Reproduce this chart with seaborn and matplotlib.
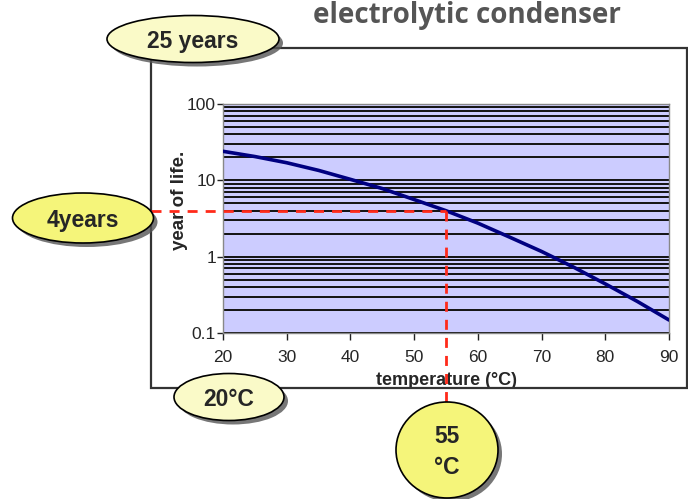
import matplotlib
matplotlib.use("Agg")
import matplotlib.pyplot as plt
from matplotlib.patches import Ellipse, Rectangle
from matplotlib.ticker import FixedLocator, NullFormatter
import seaborn as sns

# 온도별 수명 데이터
temperature = [20, 25, 30, 35, 40, 45, 50, 55, 60, 65, 70, 75, 80, 85, 90]
life_years = [24, 20.5, 17, 13.5, 10.3, 7.8, 5.6, 4.0, 2.75, 1.8, 1.17, 0.73, 0.44, 0.26, 0.148]

x_ticks = [20, 30, 40, 50, 60, 70, 80, 90]
y_ticks = [0.1, 1, 10, 100]
y_tick_labels = ['0.1', '1', '10', '100']
y_minor = [m * d for d in (0.1, 1, 10) for m in range(2, 10)]

# 표시할 기준점
mark_temp = 55
mark_life = 4
bubble_texts = ['25 years', '4years', '20°C', '55\n°C']

sns.set_style("white")
plt.rcParams['font.family'] = ['Liberation Sans', 'DejaVu Sans']

W, H = 688, 499
fig = plt.figure(figsize=(W / 100, H / 100), dpi=100)

# 메인 그래프
ax = fig.add_axes([223 / W, 1 - 333 / H, 446 / W, 229 / H])
ax.set_facecolor('#CCCCFF')
sns.lineplot(x=temperature, y=life_years, ax=ax, color='#000080', lw=2.6, zorder=3)
ax.set_yscale('log')
ax.set_xlim(20, 90)
ax.set_ylim(0.1, 100)
ax.xaxis.set_major_locator(FixedLocator(x_ticks))
ax.yaxis.set_major_locator(FixedLocator(y_ticks))
ax.set_yticklabels(y_tick_labels)
ax.yaxis.set_minor_locator(FixedLocator(y_minor))
ax.yaxis.set_minor_formatter(NullFormatter())
ax.grid(True, which='both', axis='y', color='#111111', lw=1.4)
ax.grid(False, axis='x')
ax.tick_params(axis='x', direction='out', length=5, width=1, pad=7,
               labelsize=12.5, bottom=True, color='#222222')
ax.tick_params(axis='y', which='major', direction='out', length=4, width=1,
               pad=1, labelsize=12.5, left=True, color='#222222')
ax.tick_params(axis='y', which='minor', length=0)
for s in ax.spines.values():
    s.set_color('#888888')
    s.set_linewidth(1)
ax.set_xlabel('temperature (°C)', fontsize=13, fontweight='bold', labelpad=5)
ax.set_ylabel('year of life.', fontsize=13.5, fontweight='bold', labelpad=2)
ax.yaxis.set_label_coords(-0.078, 0.58)

# 기준점 위치 (픽셀)
px, py = ax.transData.transform((mark_temp, mark_life))
py = H - py

# 덧그림용 축
ov = fig.add_axes([0, 0, 1, 1], zorder=5)
ov.set_xlim(0, W)
ov.set_ylim(H, 0)
ov.axis('off')

ov.add_patch(Rectangle((151, 48), 536, 340, fill=False, ec='#333333', lw=1.6, zorder=1))

dash = (0, (3.6, 2.9))
ov.plot([151, px], [py, py], color='#FF2A1A', lw=2, linestyle=dash, zorder=2)
ov.plot([px, px], [py, 404], color='#FF2A1A', lw=2, linestyle=dash, zorder=2)

light = '#FAFAC8'
strong = '#F5F57A'
bubbles = [
    (193, 39, 172, 47, light, bubble_texts[0]),
    (83, 218, 141, 50, strong, bubble_texts[1]),
    (229, 397, 110, 47, light, bubble_texts[2]),
    (447, 450, 102, 96, strong, bubble_texts[3]),
]
for cx, cy, w, h, fc, t in bubbles:
    ov.add_patch(Ellipse((cx + 4, cy + 4), w, h, fc='#555555', ec='none', alpha=0.8, zorder=3))
    ov.add_patch(Ellipse((cx, cy), w, h, fc=fc, ec='black', lw=1.2, zorder=4))
    ov.text(cx, cy + 2, t, ha='center', va='center', fontsize=16.5, fontweight='bold',
            linespacing=1.45, zorder=5)

ov.text(467, 15, 'electrolytic condenser', ha='center', va='center', fontsize=20,
        color='#555555', fontweight='bold', family=['Open Sans', 'DejaVu Sans'])

fig.savefig('out.png', dpi=100)
